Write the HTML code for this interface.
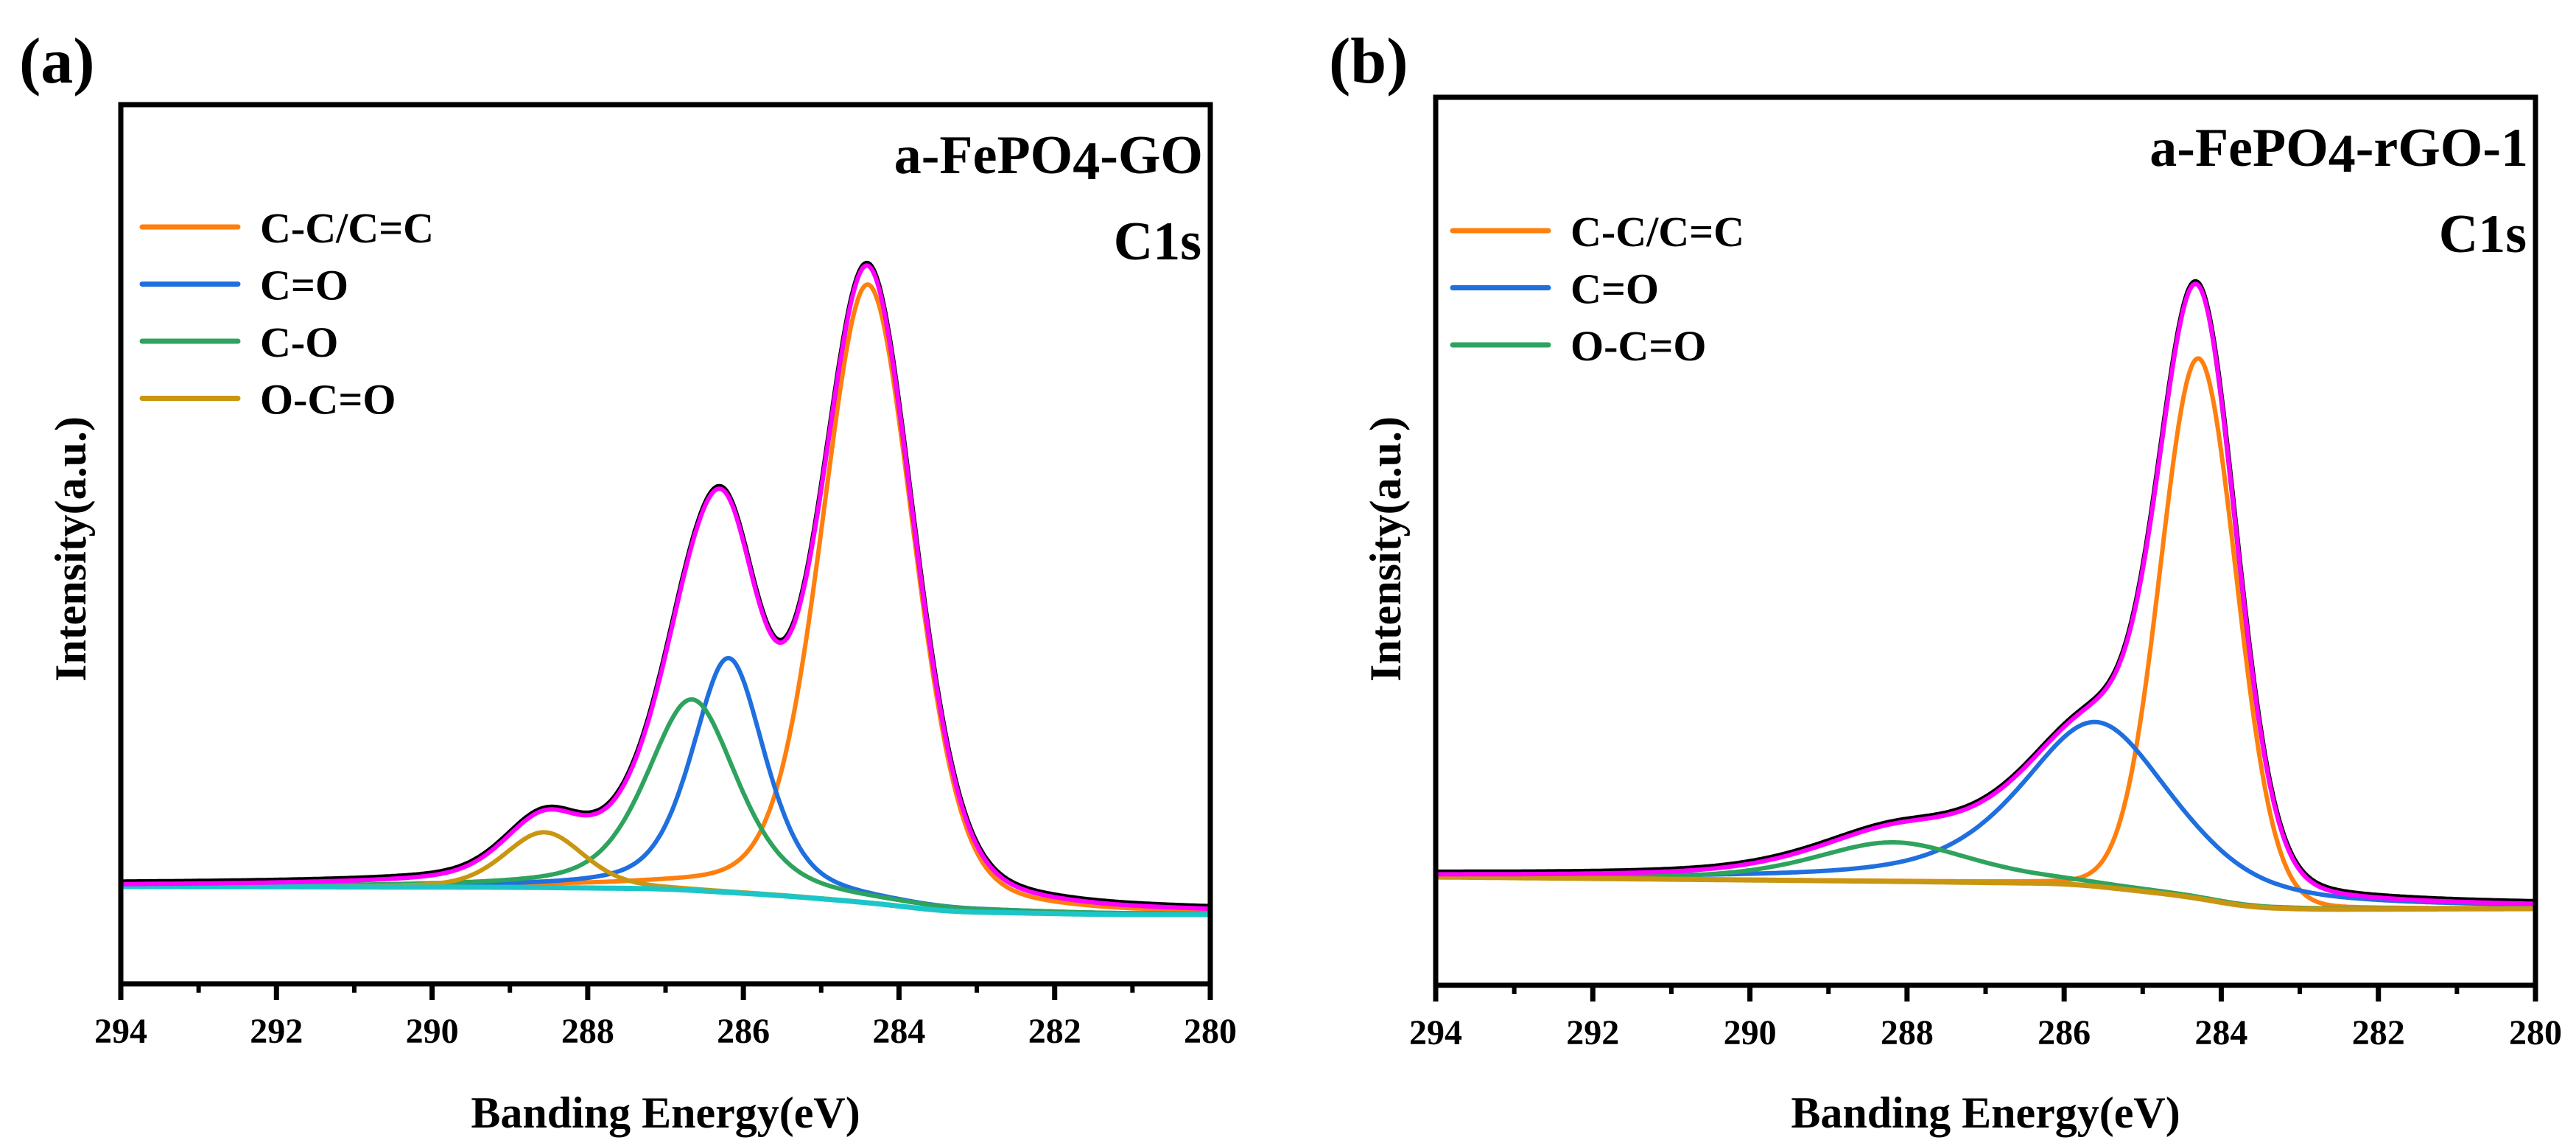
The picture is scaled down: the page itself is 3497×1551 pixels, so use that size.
<!DOCTYPE html>
<html><head><meta charset="utf-8">
<style>
html,body{margin:0;padding:0;background:#fff;}
svg{display:block;}
svg text{font-family:"Liberation Serif","Times New Roman",serif;font-weight:700;}
</style></head>
<body>
<svg id="fig" width="3497" height="1551" viewBox="0 0 3497 1551" xmlns="http://www.w3.org/2000/svg" font-family="Liberation Serif, serif" font-weight="bold">
<rect width="3497" height="1551" fill="#fff"/>
<g id="panelA"></g>
<g id="panelB"></g>
</svg>
<script>
// ---- shared axis data ----
const xTickLabels = [294, 292, 290, 288, 286, 284, 282, 280];
const xMinorTicks = [293, 291, 289, 287, 285, 283, 281];

// ---- panel (a) data: a-FePO4-GO ----
const aNames = ["C-C/C=C", "C=O", "C-O", "O-C=O"];
const aCenters = [284.40, 286.19, 286.66, 288.56];
const aHeights = [839, 318, 259, 75];
const aFwhm = [1.40, 1.11, 1.38, 1.20];
const aMix = [0.25, 0.5, 0.5, 0.3];
const aBgEnergy = [294, 288.92, 287.0, 285.54, 284.38, 283.37, 281.35, 280];
const aBgValue = [132, 131, 129, 120, 110, 98, 94, 94];

// ---- panel (b) data: a-FePO4-rGO-1 ----
const bNames = ["C-C/C=C", "C=O", "O-C=O"];
const bCenters = [284.29, 285.58, 288.17];
const bHeights = [733, 223, 53];
const bFwhm = [1.14, 2.30, 2.40];
const bMix = [0.05, 0.6, 0.5];
const bBgEnergy = [294, 288.17, 285.93, 285.03, 284.32, 283.69, 282.79, 280];
const bBgValue = [147, 141, 138, 128, 119, 106, 103, 104];

const NS = "http://www.w3.org/2000/svg";
const FONT = "Liberation Serif, Times New Roman, serif";
function mk(parent, tag, attrs, text){
  const e = document.createElementNS(NS, tag);
  for (const k in attrs) e.setAttribute(k, attrs[k]);
  if (tag === "text"){ e.setAttribute("font-family", FONT); e.setAttribute("font-weight", "bold"); }
  if (text !== undefined) e.textContent = text;
  parent.appendChild(e);
  return e;
}
function pv(x, c, h, w, m){
  const d = (x - c) / w;
  const g = Math.exp(-4 * Math.LN2 * d * d);
  const l = 1 / (1 + 4 * d * d);
  return h * ((1 - m) * g + m * l);
}
function bgLinear(x, es, vs){
  for (let i = 0; i < es.length - 1; i++){
    const e0 = es[i], e1 = es[i+1];
    if (x <= e0 && x >= e1){
      const t = (e0 - x) / (e0 - e1);
      return vs[i] + (vs[i+1] - vs[i]) * t;
    }
  }
  return x > es[0] ? vs[0] : vs[vs.length-1];
}

function drawPanel(g, P){
  const L = P.left, R = P.right, T = P.top, B = P.bottom;
  const xs = e => L + (294 - e) / 14 * (R - L);
  const ys = v => B - v;
  const step = 0.02, N = Math.round(14 / step);
  const energies = [];
  for (let i = 0; i <= N; i++) energies.push(294 - i * step);
  const raw = energies.map(e => bgLinear(e, P.bgE, P.bgV));
  // smooth background (moving average, half-window 0.4 eV)
  const W = 20;
  const bg = raw.map((v, i) => {
    let s = 0, n = 0;
    for (let j = i - W; j <= i + W; j++){
      const jj = Math.min(N, Math.max(0, j));
      s += raw[jj]; n++;
    }
    return s / n;
  });
  const comps = P.centers.map((c, k) => energies.map((e, i) => bg[i] + pv(e, c, P.heights[k], P.fwhm[k], P.mix[k])));
  const env = energies.map((e, i) => {
    let s = bg[i];
    for (let k = 0; k < P.centers.length; k++) s += pv(e, P.centers[k], P.heights[k], P.fwhm[k], P.mix[k]);
    return s;
  });
  const pathOf = arr => arr.map((v, i) => (i ? "L" : "M") + xs(energies[i]).toFixed(1) + "," + ys(v).toFixed(1)).join("");
  const cg = mk(g, "g", {"clip-path": "url(#" + P.clip + ")"});
  
  
  P.colors.forEach((col, k) => {
    const p = mk(cg, "path", {d: pathOf(comps[k]), fill: "none", stroke: col, "stroke-width": 6, "stroke-linejoin": "round"});
    
    
  });
  const bp = mk(cg, "path", {d: pathOf(bg), fill: "none", stroke: P.bgColor, "stroke-width": 7});
  
  
  const rl = mk(cg, "path", {d: pathOf(env.map(v => v + 3)), fill: "none", stroke: "#000", "stroke-width": 7, "stroke-linejoin": "round"});
  
  
  const ep = mk(cg, "path", {d: pathOf(env), fill: "none", stroke: "#ff00ff", "stroke-width": 6, "stroke-linejoin": "round"});
  
  
  const fr = mk(g, "rect", {x: L, y: T, width: R - L, height: B - T, fill: "none", stroke: "#000", "stroke-width": 7});
  
  
  xTickLabels.forEach(t => {
    const x = xs(t);
    const tk = mk(g, "line", {x1: x, y1: B, x2: x, y2: B + 22, stroke: "#000", "stroke-width": 7});
    
    
    const tl = mk(g, "text", {x: x, y: B + 80, "text-anchor": "middle", "font-size": 48}, String(t));
    
    
  });
  xMinorTicks.forEach(t => {
    const x = xs(t);
    const tk = mk(g, "line", {x1: x, y1: B, x2: x, y2: B + 12, stroke: "#000", "stroke-width": 6});
    
    
  });
  const xt = mk(g, "text", {x: (L + R) / 2, y: 1530, "text-anchor": "middle", "font-size": 60}, "Banding Energy(eV)");
  
  
  const yt = mk(g, "text", {x: 0, y: 0, "text-anchor": "middle", "font-size": 60, transform: "translate(" + (L - 48) + ",745) rotate(-90)"}, "Intensity(a.u.)");
  
  
  const pl = mk(g, "text", {x: P.labelX, y: 112, "font-size": 88}, P.label);
  
  
  const st = mk(g, "text", {x: R - 10, y: T + 93, "text-anchor": "end", "font-size": 74});
  
  
  mk(st, "tspan", {}, "a-FePO");
  mk(st, "tspan", {dy: 8}, "4");
  mk(st, "tspan", {dy: -8}, P.sampleTail);
  const c1 = mk(g, "text", {x: R - 12, y: T + 210, "text-anchor": "end", "font-size": 74}, "C1s");
  
  
  P.names.forEach((n, k) => {
    const y = P.legTop + k * 77.5;
    const ln = mk(g, "line", {x1: P.legX, y1: y, x2: P.legX + 130, y2: y, stroke: P.colors[k], "stroke-width": 7, "stroke-linecap": "round"});
    
    
    const tx = mk(g, "text", {x: P.legX + 160, y: y + 21, "font-size": 58}, n);
    
    
  });
}

const svg = document.getElementById("fig");
const defs = mk(svg, "defs", {});
const cpa = mk(defs, "clipPath", {id: "clipA"}); mk(cpa, "rect", {x: 164, y: 142, width: 1479, height: 1193});
const cpb = mk(defs, "clipPath", {id: "clipB"}); mk(cpb, "rect", {x: 1949, y: 132, width: 1493, height: 1205});

drawPanel(document.getElementById("panelA"), {
  left: 164, right: 1643, top: 142, bottom: 1335, clip: "clipA",
  names: aNames, centers: aCenters, heights: aHeights, fwhm: aFwhm, mix: aMix,
  bgE: aBgEnergy, bgV: aBgValue, bgColor: "#1cc6c8",
  colors: ["#ff7f0e", "#1f6fde", "#2ea35e", "#c99612"],
  label: "(a)", labelX: 26, sampleTail: "-GO", legX: 193, legTop: 308
});
drawPanel(document.getElementById("panelB"), {
  left: 1949, right: 3442, top: 132, bottom: 1337, clip: "clipB",
  names: bNames, centers: bCenters, heights: bHeights, fwhm: bFwhm, mix: bMix,
  bgE: bBgEnergy, bgV: bBgValue, bgColor: "#c99612",
  colors: ["#ff7f0e", "#1f6fde", "#2ea35e"],
  label: "(b)", labelX: 1804, sampleTail: "-rGO-1", legX: 1972, legTop: 313
});
</script>
</body></html>
